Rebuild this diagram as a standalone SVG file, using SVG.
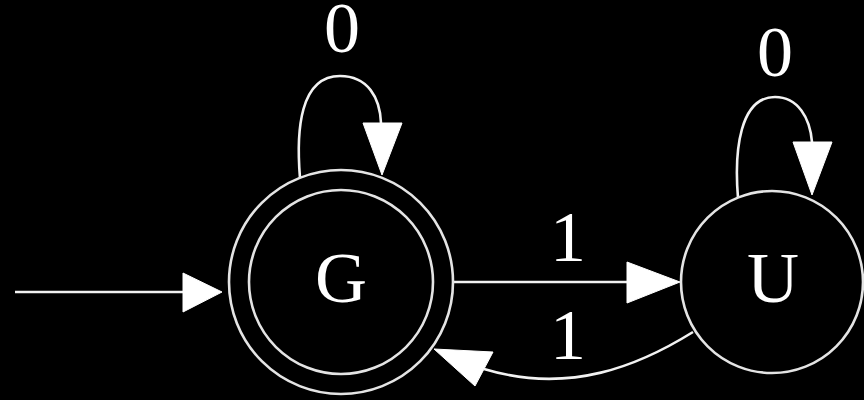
<svg xmlns="http://www.w3.org/2000/svg" width="864" height="400" viewBox="0 0 864 400">
  <style>
    .bg { fill: #000000; }
    .ring { fill: none; stroke: #e4e4e4; stroke-width: 2.6; }
    .edge { fill: none; stroke: #f2f2f2; stroke-width: 2.6; }
    .head { fill: #ffffff; stroke: #ffffff; stroke-width: 1; stroke-linejoin: miter; }
    .label { font-family: "Liberation Serif", "Times New Roman", serif; font-size: 72px; fill: #ffffff; text-anchor: middle; }
  </style>
  <rect class="bg" x="0" y="0" width="864" height="400"/>

  <!-- transitions -->
  <g id="edges">
    <!-- start arrow into G -->
    <g id="edge-start">
      <path class="edge" d="M15,292 L184,292"/>
      <polygon class="head" points="183,273 183,312 222,292"/>
    </g>
    <!-- G loop on 0 -->
    <g id="edge-G-G">
      <path class="edge" d="M300,178 C296,130 300,76 340,76 C368,76 380,98 381,123"/>
      <polygon class="head" points="363,123 402,123 382,175"/>
      <text class="label" x="342" y="52">0</text>
    </g>
    <!-- G to U on 1 -->
    <g id="edge-G-U">
      <path class="edge" d="M454,282 L628,282"/>
      <polygon class="head" points="627,262 627,303 680,282"/>
      <text class="label" x="568" y="261">1</text>
    </g>
    <!-- U back to G on 1 -->
    <g id="edge-U-G">
      <path class="edge" d="M693,332 C640,365 570,395 484,369"/>
      <polygon class="head" points="434,349 493,352 475,386"/>
      <text class="label" x="568" y="359">1</text>
    </g>
    <!-- U loop on 0 -->
    <g id="edge-U-U">
      <path class="edge" d="M738,198 C734,150 740,97 775,97 C798,97 810,118 812,142"/>
      <polygon class="head" points="793,142 832,142 812,195"/>
      <text class="label" x="775" y="76">0</text>
    </g>
  </g>

  <!-- accepting start state G -->
  <g id="node-G">
    <circle class="ring" cx="341" cy="282" r="112"/>
    <circle class="ring" cx="341" cy="282" r="92"/>
    <text class="label" x="341" y="302">G</text>
  </g>

  <!-- state U -->
  <g id="node-U">
    <circle class="ring" cx="772" cy="282" r="91"/>
    <text class="label" x="773" y="302">U</text>
  </g>
</svg>
